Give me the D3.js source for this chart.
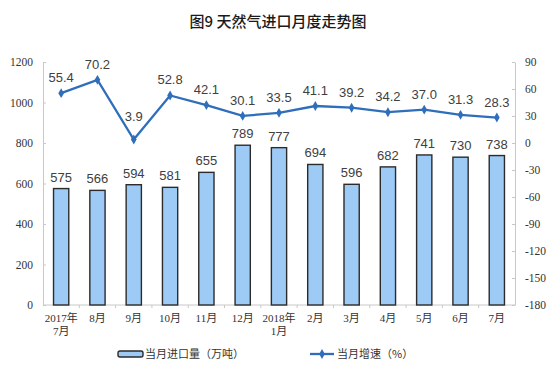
<!DOCTYPE html>
<html>
<head>
<meta charset="utf-8">
<script src="https://cdn.jsdelivr.net/npm/d3@7"></script>
<style>
  body { margin: 0; background: #fff; }
  svg { display: block; }
</style>
</head>
<body>
<svg id="chart"></svg>
<script>
const months = ["2017年\n7月", "8月", "9月", "10月", "11月", "12月", "2018年\n1月", "2月", "3月", "4月", "5月", "6月", "7月"];
const importVolume = [575, 566, 594, 581, 655, 789, 777, 694, 596, 682, 741, 730, 738];
const growthRate = [55.4, 70.2, 3.9, 52.8, 42.1, 30.1, 33.5, 41.1, 39.2, 34.2, 37.0, 31.3, 28.3];
const leftTicks = [0, 200, 400, 600, 800, 1000, 1200];
const rightTicks = [-180, -150, -120, -90, -60, -30, 0, 30, 60, 90];

const BAR_FILL = "#9dcbf6";
const BAR_STROKE = "#2b2b2b";
const LINE_COLOR = "#2f6eba";
const AXIS_COLOR = "#c8c8c8";
const SERIF = "'Liberation Serif', 'Noto Sans CJK SC', serif";
const SANS = "'Liberation Sans', Arial, sans-serif";
const CJK = "'Noto Sans CJK SC', sans-serif";

function main() {
    const width = 550;
    const height = 373;
    const plot = { left: 43, right: 515, top: 62, bottom: 305 };

    const svg = d3.select("#chart").attr("width", width).attr("height", height);

    const x = d3.scaleBand().domain(months).range([plot.left, plot.right]).paddingInner(0.58).paddingOuter(0.29);
    const yLeft = d3.scaleLinear().domain([0, 1200]).range([plot.bottom, plot.top]);
    const yRight = d3.scaleLinear().domain([-180, 90]).range([plot.bottom, plot.top]);

    svg.append("text")
        .attr("x", 278).attr("y", 27)
        .attr("text-anchor", "middle")
        .style("font-family", CJK).style("font-size", "15px").style("font-weight", "500")
        .attr("fill", "#1a1a1a")
        .text("图9  天然气进口月度走势图");

    // axes, plain integer labels with ascii minus
    const plain = d => String(d);
    const leftAxis = d3.axisLeft(yLeft).tickValues(leftTicks).tickFormat(plain).tickSize(-3).tickSizeOuter(0).tickPadding(10);
    const rightAxis = d3.axisRight(yRight).tickValues(rightTicks).tickFormat(plain).tickSize(-3).tickSizeOuter(0).tickPadding(10);

    const gl = svg.append("g").attr("transform", "translate(" + plot.left + ",0)").call(leftAxis);
    const gr = svg.append("g").attr("transform", "translate(" + plot.right + ",0)").call(rightAxis);
    styleAxis(gl);
    styleAxis(gr);

    // x axis with ticks between categories
    const step = x.step();
    const gx = svg.append("g").attr("transform", "translate(0," + plot.bottom + ")");
    gx.append("line").attr("x1", plot.left).attr("x2", plot.right).attr("stroke", AXIS_COLOR);
    gx.selectAll(".sep").data(d3.range(1, months.length))
        .join("line")
        .attr("x1", i => plot.left + i * step).attr("x2", i => plot.left + i * step)
        .attr("y1", 0).attr("y2", 3)
        .attr("stroke", AXIS_COLOR);
    const lab = gx.selectAll(".lab").data(months)
        .join("text")
        .attr("text-anchor", "middle")
        .attr("transform", d => "translate(" + (x(d) + x.bandwidth() / 2) + ",0)")
        .style("font-family", SERIF).style("font-size", "11px").attr("fill", "#333");
    lab.selectAll("tspan").data(d => d.split("\n"))
        .join("tspan")
        .attr("x", 0)
        .attr("y", (d, i) => 17 + i * 13)
        .text(d => d);

    // bars
    svg.selectAll(".bar").data(importVolume)
        .join("rect")
        .attr("x", (d, i) => x(months[i]))
        .attr("y", d => yLeft(d))
        .attr("width", x.bandwidth())
        .attr("height", d => yLeft(0) - yLeft(d))
        .attr("fill", BAR_FILL)
        .attr("stroke", BAR_STROKE)
        .attr("stroke-width", 1.4);

    svg.selectAll(".barlab").data(importVolume)
        .join("text")
        .attr("x", (d, i) => x(months[i]) + x.bandwidth() / 2)
        .attr("y", d => yLeft(d) - 7)
        .attr("text-anchor", "middle")
        .style("font-family", SANS).style("font-size", "13px").attr("fill", "#404040")
        .text(d => d);

    // growth line
    const cx = i => x(months[i]) + x.bandwidth() / 2;
    const line = d3.line().x((d, i) => cx(i)).y(d => yRight(d));
    svg.append("path").datum(growthRate)
        .attr("d", line)
        .attr("fill", "none")
        .attr("stroke", LINE_COLOR)
        .attr("stroke-width", 2.3);

    const diamond = d3.symbol().type(d3.symbolDiamond).size(28);
    svg.selectAll(".pt").data(growthRate)
        .join("path")
        .attr("d", diamond)
        .attr("transform", (d, i) => "translate(" + cx(i) + "," + yRight(d) + ")")
        .attr("fill", LINE_COLOR);

    // lift labels of local dips so they clear the line
    const isDip = i => i > 0 && i < growthRate.length - 1 &&
        growthRate[i] < growthRate[i - 1] - 20 && growthRate[i] < growthRate[i + 1] - 20;
    svg.selectAll(".ptlab").data(growthRate)
        .join("text")
        .attr("x", (d, i) => cx(i))
        .attr("y", (d, i) => yRight(d) - (isDip(i) ? 18 : 11))
        .attr("text-anchor", "middle")
        .style("font-family", SANS).style("font-size", "13px").attr("fill", "#404040")
        .text(d => d.toFixed(1));

    // legend
    const lg = svg.append("g").attr("transform", "translate(0,354)");
    lg.append("rect").attr("x", 118).attr("y", -3).attr("width", 25).attr("height", 6).attr("rx", 2)
        .attr("fill", BAR_FILL).attr("stroke", BAR_STROKE).attr("stroke-width", 1.4);
    lg.append("text").attr("x", 145).attr("y", 4)
        .style("font-family", CJK).style("font-size", "11px").attr("fill", "#333")
        .text("当月进口量（万吨）");
    lg.append("line").attr("x1", 310).attr("x2", 334).attr("stroke", LINE_COLOR).attr("stroke-width", 2.3);
    lg.append("path").attr("d", diamond).attr("transform", "translate(322,0)").attr("fill", LINE_COLOR);
    lg.append("text").attr("x", 337).attr("y", 4)
        .style("font-family", CJK).style("font-size", "11px").attr("fill", "#333")
        .text("当月增速（%）");
}

function styleAxis(g) {
    g.select(".domain").attr("stroke", AXIS_COLOR);
    g.selectAll(".tick line").attr("stroke", AXIS_COLOR);
    g.selectAll(".tick text").style("font-family", SERIF).style("font-size", "11.5px").attr("fill", "#333");
}

main();
</script>
</body>
</html>
